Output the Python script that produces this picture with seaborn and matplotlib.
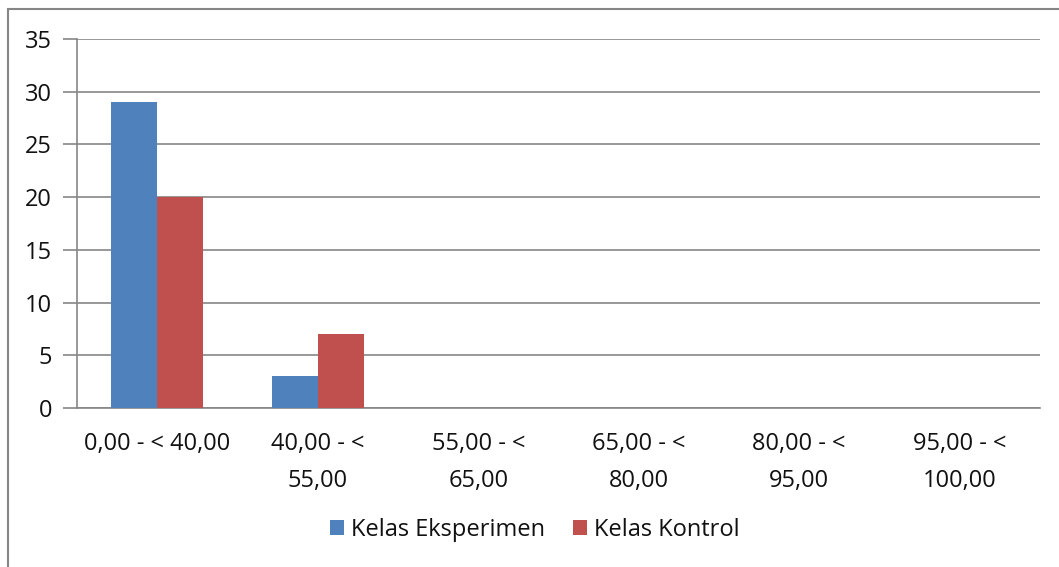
import matplotlib
matplotlib.use("Agg")
import matplotlib.pyplot as plt
import seaborn as sns
import pandas as pd
import numpy as np
from matplotlib.patches import Patch, Rectangle

categories = ["0,00 - < 40,00", "40,00 - <\n55,00", "55,00 - <\n65,00",
              "65,00 - <\n80,00", "80,00 - <\n95,00", "95,00 - <\n100,00"]
eksperimen = [29, 3, 0, 0, 0, 0]
kontrol = [20, 7, 0, 0, 0, 0]
series_names = ["Kelas Eksperimen", "Kelas Kontrol"]
colors = ["#4F81BD", "#C0504D"]
y_ticks = [0, 5, 10, 15, 20, 25, 30, 35]

df = pd.DataFrame({
    "kategori": categories * 2,
    "nilai": eksperimen + kontrol,
    "kelas": [series_names[0]] * len(categories) + [series_names[1]] * len(categories),
})

sns.set_theme(style="white")
plt.rcParams['font.family'] = ['Open Sans', 'DejaVu Sans']

FS = 17

fig = plt.figure(figsize=(10.59, 5.67), dpi=100)
ax = fig.add_axes([77/1059, 1-408/567, (1040-77)/1059, (408-39)/567])

sns.barplot(data=df, x="kategori", y="nilai", hue="kelas", order=categories,
            hue_order=series_names, palette=colors, width=0.575, gap=0,
            saturation=1, edgecolor="none", linewidth=0, ax=ax, legend=False,
            zorder=3)

ax.set_ylim(0, 35)
ax.set_xlim(-0.5, len(categories) - 0.5)
ax.set_yticks(y_ticks)
ax.set_yticklabels([str(v) for v in y_ticks], fontsize=FS, color="#111111")
ax.yaxis.grid(True, color="#868686", linewidth=1.2, zorder=0)
ax.set_axisbelow(True)
ax.set_xlabel("")
ax.set_ylabel("")

ax.set_xticks(range(len(categories)))
ax.set_xticklabels(categories, fontsize=FS, linespacing=1.75, va="top", color="#111111")
ax.tick_params(axis="x", which="major", length=0, pad=17)
ax.set_xticks(np.arange(-0.5, len(categories), 1.0), minor=True)
ax.tick_params(axis="x", which="minor", length=8, width=1.2, color="#868686", direction="out")
ax.tick_params(axis="y", length=10, width=1.2, color="#868686", direction="out", pad=8, left=True)

for side in ["top", "right"]:
    ax.spines[side].set_visible(False)
for side in ["left", "bottom"]:
    ax.spines[side].set_color("#868686")
    ax.spines[side].set_linewidth(1.2)

handles = [Patch(facecolor=c, edgecolor="none") for c in colors]
fig.legend(handles, series_names, loc="center", bbox_to_anchor=(0.505, 1-530/567),
           ncol=2, frameon=False, fontsize=FS, handlelength=0.6, handleheight=0.6,
           handletextpad=0.3, columnspacing=1.2, labelcolor="#111111")

fig.patches.append(Rectangle((8/1059, -0.1), 1.2, 1-9/567+0.1, transform=fig.transFigure,
                             fill=False, edgecolor="#868686", linewidth=1.5))

fig.savefig("out.png", dpi=100)
